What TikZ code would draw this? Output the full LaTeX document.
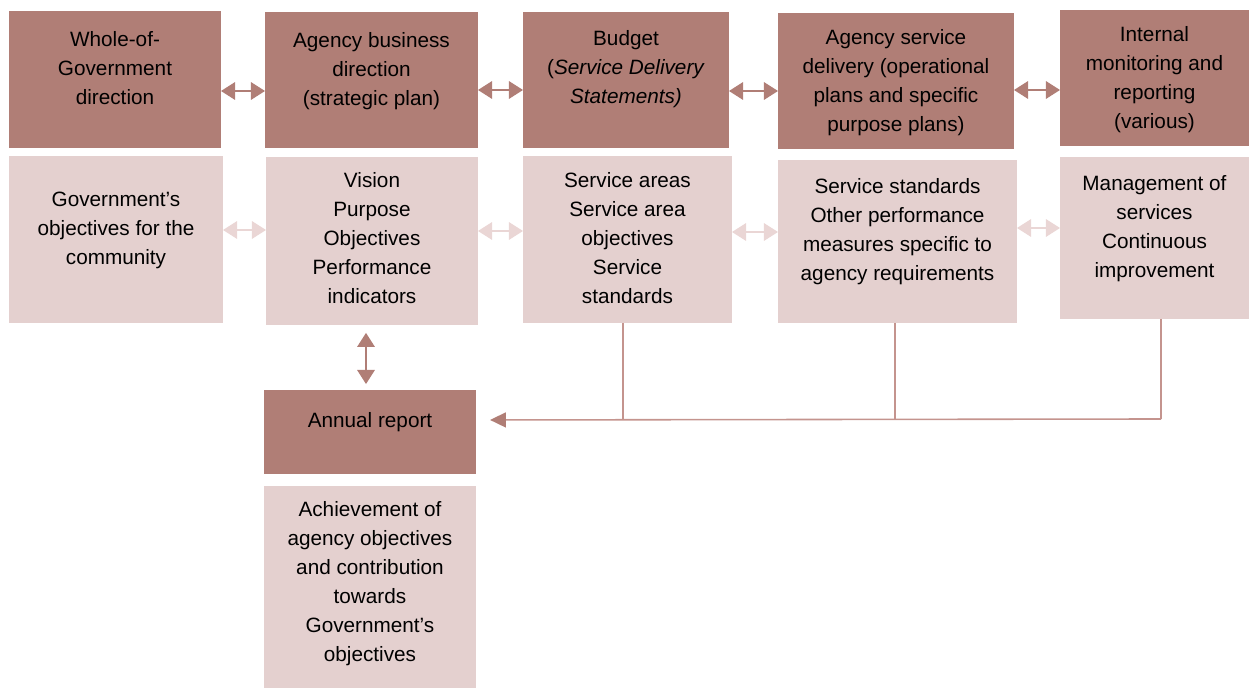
\documentclass[tikz,border=0pt]{standalone}
\usepackage{fontspec}
\setmainfont{Liberation Sans}
\usetikzlibrary{arrows.meta}
\definecolor{dk}{RGB}{176,126,118}
\definecolor{lt}{RGB}{228,208,207}
\definecolor{lta}{RGB}{234,214,213}
\definecolor{ln}{RGB}{196,148,142}
% #1 style, #2 name, #3 x1, #4 y1, #5 x2, #6 y2, #7 first-line centre offset (px), #8 text
\newcommand\bx[8]{\node[#1] (#2) at ({(#3+#5)/2},{(#4+#6)/2})
  {\parbox[c][\dimexpr 0.02cm*(#6-#4)\relax][t]{\dimexpr 0.02cm*(#5-#3)\relax}{\centering\vspace*{\dimexpr 0.02cm*(#7-13)\relax}\strut #8}};}
\tikzset{
  boxbase/.style={inner sep=0pt, outer sep=0pt, font=\fontsize{11.8}{16.5}\selectfont},
  darkbox/.style={boxbase, fill=dk},
  lightbox/.style={boxbase, fill=lt},
  darr/.style={draw=dk, line width=0.8pt, {Triangle[length=8pt,width=10pt]}-{Triangle[length=8pt,width=10pt]}},
  larr/.style={draw=lta, line width=0.8pt, {Triangle[length=8pt,width=10pt]}-{Triangle[length=8pt,width=10pt]}},
  conn/.style={draw=ln, line width=0.9pt},
}
\begin{document}
\begin{tikzpicture}[x=0.02cm, y=-0.02cm]
\useasboundingbox (0,0) rectangle (1249,688);
% top row
\bx{darkbox}{d1}{9}{11}{221}{148}{28}{Whole-of-\\Government\\direction}
\bx{darkbox}{d2}{265}{12}{478}{148}{28}{Agency business\\direction\\(strategic plan)}
\bx{darkbox}{d3}{523}{12}{729}{148}{26}{Budget\\(\textit{Service Delivery}\\\textit{Statements)}}
\bx{darkbox}{d4}{778}{13}{1014}{149}{24}{Agency service\\delivery (operational\\plans and specific\\purpose plans)}
\bx{darkbox}{d5}{1060}{10}{1249}{146}{24}{Internal\\monitoring and\\reporting\\(various)}
% second row
\bx{lightbox}{l1}{9}{156}{223}{323}{43}{Government's\\objectives for the\\community}
\bx{lightbox}{l2}{266}{157}{478}{325}{23}{Vision\\Purpose\\Objectives\\Performance\\indicators}
\bx{lightbox}{l3}{523}{156}{732}{323}{24}{Service areas\\Service area\\objectives\\Service\\standards}
\bx{lightbox}{l4}{778}{160}{1017}{323}{26}{Service standards\\Other performance\\measures specific to\\agency requirements}
\bx{lightbox}{l5}{1060}{157}{1249}{319}{26}{Management of\\services\\Continuous\\improvement}
% annual report
\bx{darkbox}{ar}{264}{390}{476}{474}{30}{Annual report}
\bx{lightbox}{ach}{264}{486}{476}{688}{23}{Achievement of\\agency objectives\\and contribution\\towards\\Government's\\objectives}
% top arrows
\draw[darr] (d1.east |- 0,91) -- (d2.west |- 0,91);
\draw[darr] (d2.east |- 0,90) -- (d3.west |- 0,90);
\draw[darr] (d3.east |- 0,91) -- (d4.west |- 0,91);
\draw[darr] (d4.east |- 0,90) -- (d5.west |- 0,90);
% light arrows
\draw[larr] (l1.east |- 0,230) -- (l2.west |- 0,230);
\draw[larr] (l2.east |- 0,231) -- (l3.west |- 0,231);
\draw[larr] (l3.east |- 0,232) -- (l4.west |- 0,232);
\draw[larr] (l4.east |- 0,228) -- (l5.west |- 0,228);
% vertical arrow
\draw[darr, shorten <=4.5pt, shorten >=3.4pt] (l2.south -| 366,0) -- (ar.north -| 366,0);
% connectors to annual report
\coordinate (j3) at (623,420);
\coordinate (j4) at (895,419);
\coordinate (j5) at (1161,419);
\draw[conn] (l3.south -| j3) -- (j3);
\draw[conn] (l4.south -| j4) -- (j4);
\draw[conn] (l5.south -| j5) -- (j5);
\draw[conn, -{Triangle[length=9pt,width=8.5pt,color=dk]}, shorten >=8pt] (j5) -- (ar.east |- j3);
\end{tikzpicture}
\end{document}
